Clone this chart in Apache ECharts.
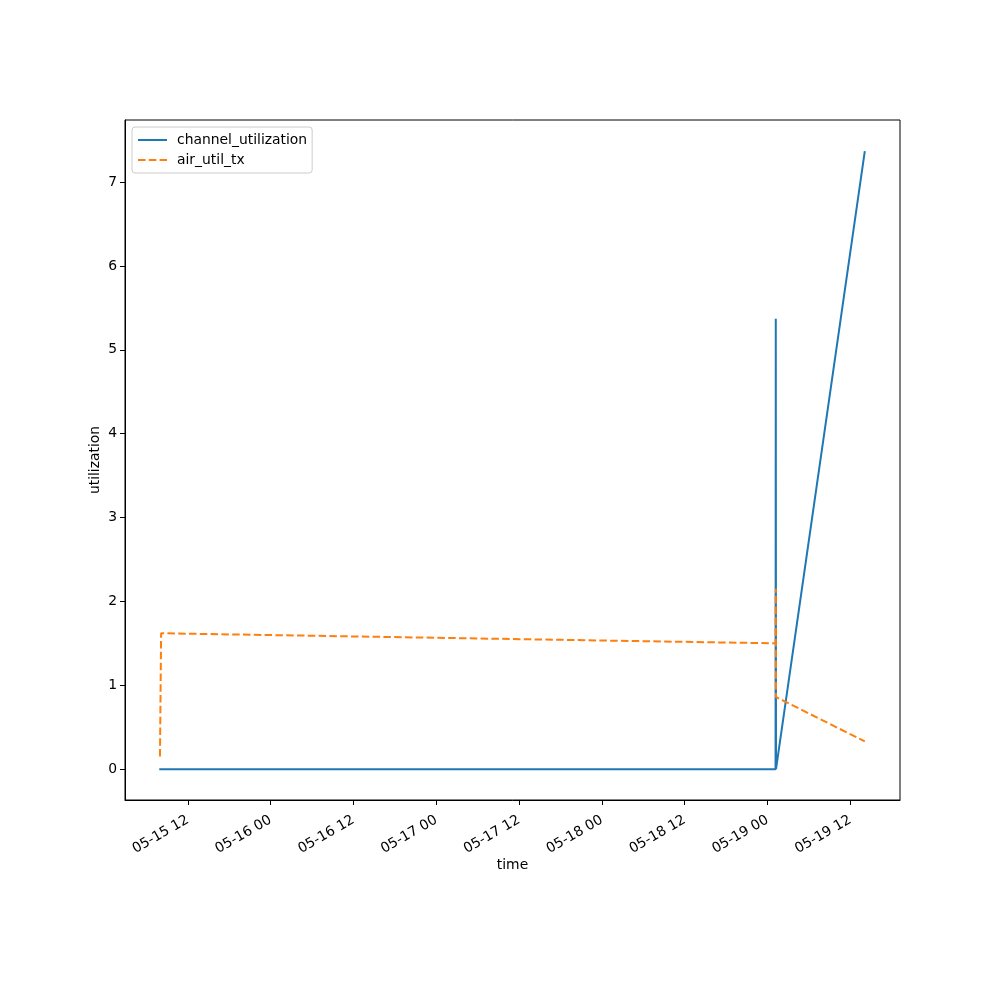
<!DOCTYPE html>
<html>
<head>
<meta charset="utf-8">
<script src="https://cdn.jsdelivr.net/npm/echarts@6/dist/echarts.min.js"></script>
<style>
html,body{margin:0;padding:0;background:#fff;}
#chart{width:1000px;height:1000px;}
</style>
</head>
<body>
<div id="chart"></div>
<script>
// ---- data ----
const channelTimes = ['2024-05-15T07:52:00', '2024-05-19T01:10:00', '2024-05-19T01:12:00', '2024-05-19T01:14:00', '2024-05-19T14:06:00'];
const channelValues = [0, 0, 5.37, 0, 7.37];
const airTimes = ['2024-05-15T07:58:00', '2024-05-15T08:08:00', '2024-05-19T01:10:00', '2024-05-19T01:12:00', '2024-05-19T01:14:00', '2024-05-19T14:06:00'];
const airValues = [0.15, 1.62, 1.50, 2.15, 0.86, 0.33];
const xTickTimes = ['2024-05-15T12:00:00', '2024-05-16T00:00:00', '2024-05-16T12:00:00', '2024-05-17T00:00:00', '2024-05-17T12:00:00', '2024-05-18T00:00:00', '2024-05-18T12:00:00', '2024-05-19T00:00:00', '2024-05-19T12:00:00'];
const yTicks = [0, 1, 2, 3, 4, 5, 6, 7];
const xMin = '2024-05-15T02:54:00';
const xMax = '2024-05-19T19:12:00';
const yMin = -0.368, yMax = 7.74;

const ts = s => new Date(s).getTime();
const pad = n => String(n).padStart(2, '0');
const fmt = v => { const d = new Date(v); return pad(d.getMonth() + 1) + '-' + pad(d.getDate()) + ' ' + pad(d.getHours()); };

const font = 'DejaVu Sans';
const chart = echarts.init(document.getElementById('chart'), null, {renderer: 'canvas'});
chart.setOption({
  animation: false,
  backgroundColor: '#fff',
  textStyle: {fontFamily: font},
  grid: {left: 125, right: 100, top: 120, bottom: 200, show: true, borderColor: '#000', borderWidth: 1, backgroundColor: 'transparent'},
  legend: {
    orient: 'vertical', left: 132, top: 127,
    borderColor: '#cccccc', borderWidth: 1, borderRadius: 3,
    padding: [6, 5, 6, 5], itemGap: 6, itemWidth: 29, itemHeight: 12,
    itemStyle: {opacity: 0},
    textStyle: {fontFamily: font, fontSize: 13.9, color: '#000', padding: [0, 0, 0, 5]},
    data: ['channel_utilization', 'air_util_tx']
  },
  xAxis: {
    type: 'value', min: ts(xMin), max: ts(xMax),
    name: 'time', nameLocation: 'middle', nameGap: 58, nameMoveOverlap: false,
    nameTextStyle: {fontFamily: font, fontSize: 13.9, color: '#000'},
    axisLine: {show: true, onZero: false, lineStyle: {color: '#000', width: 1}},
    axisTick: {show: true, inside: false, length: 5, lineStyle: {color: '#000'}, customValues: xTickTimes.map(ts)},
    axisLabel: {show: true, rotate: 30, margin: 19, fontFamily: font, fontSize: 13.9, color: '#000', customValues: xTickTimes.map(ts), formatter: v => fmt(v)},
    splitLine: {show: false}
  },
  yAxis: {
    type: 'value', min: yMin, max: yMax,
    name: 'utilization', nameLocation: 'middle', nameGap: 23, nameRotate: 90, nameMoveOverlap: false,
    nameTextStyle: {fontFamily: font, fontSize: 13.9, color: '#000'},
    axisLine: {show: true, onZero: false, lineStyle: {color: '#000', width: 1}},
    axisTick: {show: true, inside: false, length: 5, lineStyle: {color: '#000'}, customValues: yTicks},
    axisLabel: {show: true, margin: 8, fontFamily: font, fontSize: 13.9, color: '#000', customValues: yTicks},
    splitLine: {show: false}
  },
  series: [
    {
      name: 'channel_utilization', type: 'line', symbol: 'none', showSymbol: false,
      data: channelTimes.map((t, i) => [ts(t), channelValues[i]]),
      itemStyle: {color: '#1f77b4'},
      lineStyle: {color: '#1f77b4', width: 2}
    },
    {
      name: 'air_util_tx', type: 'line', symbol: 'none', showSymbol: false,
      data: airTimes.map((t, i) => [ts(t), airValues[i]]),
      itemStyle: {color: '#ff7f0e'},
      lineStyle: {color: '#ff7f0e', width: 2, type: [7.5, 3.3]}
    }
  ]
});
</script>
</body>
</html>
